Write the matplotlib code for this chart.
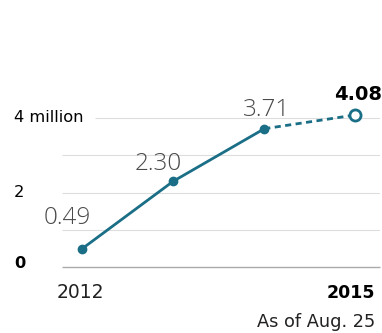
import matplotlib.pyplot as plt

years = [2012, 2013, 2014, 2015]
values = [0.49, 2.30, 3.71, 4.08]
labels = ["0.49", "2.30", "3.71", "4.08"]
# label offsets from each point, in pixels (dx, dy)
label_offsets = [(-15, 31), (-15, 17), (2, 19), (3, 20)]
ytick_vals = [0, 2, 4]
ytick_labels = ["0", "2", "4 million"]
grid_vals = [1, 2, 3, 4]

teal = "#1a6e86"
txt = "#222222"

plt.rcParams['font.family'] = ['DejaVu Sans']

fig = plt.figure(figsize=(3.82, 3.33), dpi=100)
ax = fig.add_axes([62 / 382, 0.198, 318 / 382, 0.5598])
ax.set_xlim(2011.78, 2015.27)
ax.set_ylim(0, 5)
ax.axis('off')

# gridlines
for g in grid_vals:
    start = 2011.78 + (33 / 91 if g == 4 else 0)
    ax.hlines(g, start, 2015.27, color="#dddddd", lw=0.8, zorder=1)
ax.hlines(0, 2011.78, 2015.27, color="#aaaaaa", lw=1.0, zorder=1, clip_on=False)

# solid part and dashed estimate
ax.plot(years[:3], values[:3], color=teal, lw=2, zorder=3)
ax.plot(years[2:], values[2:], color=teal, lw=2, ls=(0, (2.2, 1.6)), zorder=3)
ax.plot(years[:3], values[:3], 'o', color=teal, ms=6, zorder=4)
ax.plot(years[3], values[3], 'o', mfc='white', mec=teal, mew=2, ms=8, zorder=4)

for i, (x, y, s) in enumerate(zip(years, values, labels)):
    dx, dy = label_offsets[i]
    last = i == len(years) - 1
    if last:
        ax.annotate(s, (x, y), xytext=(dx * 0.72, dy * 0.72), textcoords='offset points',
                    ha='center', va='center', fontsize=14, fontweight='bold', color='black')
    else:
        ax.annotate(s, (x, y), xytext=(dx * 0.72, dy * 0.72), textcoords='offset points',
                    ha='center', va='center', fontsize=17.5, fontweight='light',
                    family=['Open Sans', 'DejaVu Sans'], color='#4a4a4a')

# y labels
for v, s in zip(ytick_vals, ytick_labels):
    ax.text(14 / 382, (333 - (267 - v * 37.25)) / 333 + 0.012 * (v == 0), s,
            transform=fig.transFigure, ha='left', va='center',
            fontsize=11.7, fontweight='bold' if v == 0 else 'normal', color='black')

# x labels
fig.text(80 / 382, 1 - 293 / 333, "2012", ha='center', va='center', fontsize=13.5, color=txt)
fig.text(375 / 382, 1 - 293 / 333, "2015", ha='right', va='center', fontsize=12.5,
         fontweight='bold', color='black')
fig.text(375 / 382, 1 - 322 / 333, "As of Aug. 25", ha='right', va='center', fontsize=12.8, color=txt)

fig.savefig("out.png", dpi=100)
